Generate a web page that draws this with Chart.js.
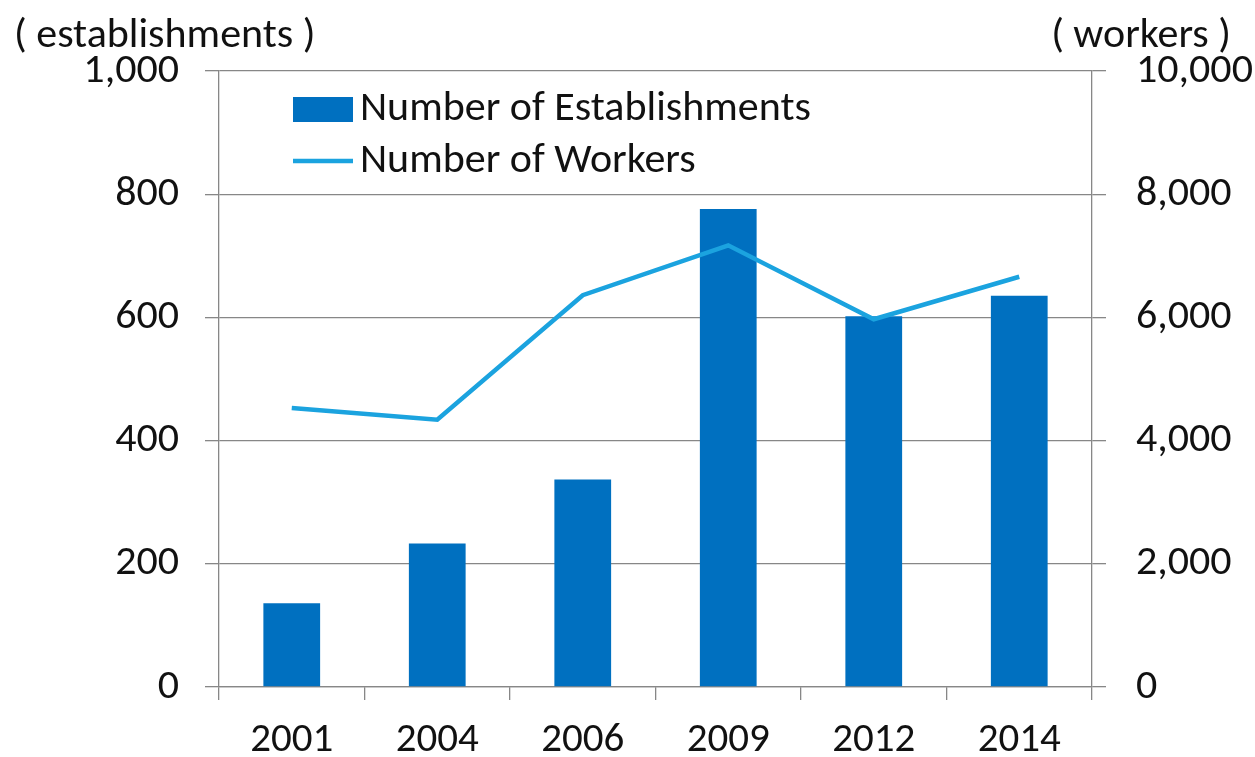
<!DOCTYPE html>
<html>
<head>
<meta charset="utf-8">
<script src="https://cdn.jsdelivr.net/npm/chart.js@4"></script>
<style>
  html, body { margin: 0; padding: 0; background: #ffffff; }
  #wrap { width: 1255px; height: 757px; position: relative; }
</style>
</head>
<body>
<div id="wrap"><canvas id="c" width="1255" height="757"></canvas></div>
<script>
// ---- data ----
const categories = ['2001', '2004', '2006', '2009', '2012', '2014'];
const establishments = [136, 233, 337, 776, 602, 635];
const workers = [4530, 4340, 6360, 7170, 5970, 6660];
const leftTicks = [0, 200, 400, 600, 800, 1000];
const rightTicks = [0, 2000, 4000, 6000, 8000, 10000];
const seriesNames = ['Number of Establishments', 'Number of Workers'];
const leftUnit = '( establishments )';
const rightUnit = '( workers )';

const FONT = 'Carlito, Lato, "Open Sans", sans-serif';
const GRID = '#878787';
const BAR = '#0070C0';
const LINE = '#1BA3DF';

const overlay = {
  id: 'overlay',
  afterDraw(chart) {
    const ctx = chart.ctx;
    const a = chart.chartArea;
    ctx.save();
    ctx.fillStyle = '#111';
    ctx.textBaseline = 'middle';
    ctx.font = '42px ' + FONT;
    ctx.textAlign = 'left';
    ctx.fillText(leftUnit, 14, 36);
    ctx.textAlign = 'right';
    ctx.fillText(rightUnit, 1231, 36);

    // legend
    ctx.textAlign = 'left';
    ctx.font = '42px ' + FONT;
    const lx = a.left + 74;
    const y1 = a.top + 38, y2 = a.top + 90;
    ctx.fillStyle = BAR;
    ctx.fillRect(lx, y1 - 12, 60, 25);
    ctx.strokeStyle = LINE;
    ctx.lineWidth = 4.5;
    ctx.beginPath();
    ctx.moveTo(lx, y2);
    ctx.lineTo(lx + 60, y2);
    ctx.stroke();
    ctx.fillStyle = '#111';
    ctx.fillText(seriesNames[0], lx + 67, y1);
    ctx.fillText(seriesNames[1], lx + 67, y2);
    ctx.restore();
  }
};

new Chart(document.getElementById('c'), {
  data: {
    labels: categories,
    datasets: [
      {
        type: 'line',
        label: seriesNames[1],
        data: workers,
        yAxisID: 'y2',
        borderColor: LINE,
        borderWidth: 4.5,
        pointRadius: 0,
        tension: 0,
        order: 0
      },
      {
        type: 'bar',
        label: seriesNames[0],
        data: establishments,
        yAxisID: 'y',
        backgroundColor: BAR,
        categoryPercentage: 1,
        barPercentage: 0.39,
        order: 1
      }
    ]
  },
  options: {
    responsive: false,
    animation: false,
    layout: { padding: { top: 71, left: 0, right: 0, bottom: 0 } },
    plugins: { legend: { display: false }, tooltip: { enabled: false } },
    scales: {
      x: {
        offset: true,
        grid: { offset: true, drawOnChartArea: false, drawTicks: true, tickLength: 13, color: GRID, lineWidth: 1.3 },
        border: { display: true, color: GRID, width: 1.3 },
        ticks: { color: '#111', font: { family: FONT, size: 41 }, padding: 16, maxRotation: 0 },
        afterFit(s) { s.height = 70; }
      },
      y: {
        position: 'left',
        min: 0, max: 1000,
        afterBuildTicks(s) { s.ticks = leftTicks.map(v => ({ value: v })); },
        grid: { color: GRID, lineWidth: 1.3, drawTicks: true, tickLength: 14 },
        border: { display: true, color: GRID, width: 1.3 },
        ticks: {
          color: '#111', font: { family: FONT, size: 42 }, padding: 26,
          callback: v => v.toLocaleString('en-US')
        },
        afterFit(s) { s.width = 219; }
      },
      y2: {
        position: 'right',
        min: 0, max: 10000,
        afterBuildTicks(s) { s.ticks = rightTicks.map(v => ({ value: v })); },
        grid: { drawOnChartArea: false, color: GRID, lineWidth: 1.3, drawTicks: true, tickLength: 14 },
        border: { display: true, color: GRID, width: 1.3 },
        ticks: {
          color: '#111', font: { family: FONT, size: 42 }, padding: 30,
          callback: v => v.toLocaleString('en-US')
        },
        afterFit(s) { s.width = 163; }
      }
    }
  },
  plugins: [overlay]
});
</script>
</body>
</html>
